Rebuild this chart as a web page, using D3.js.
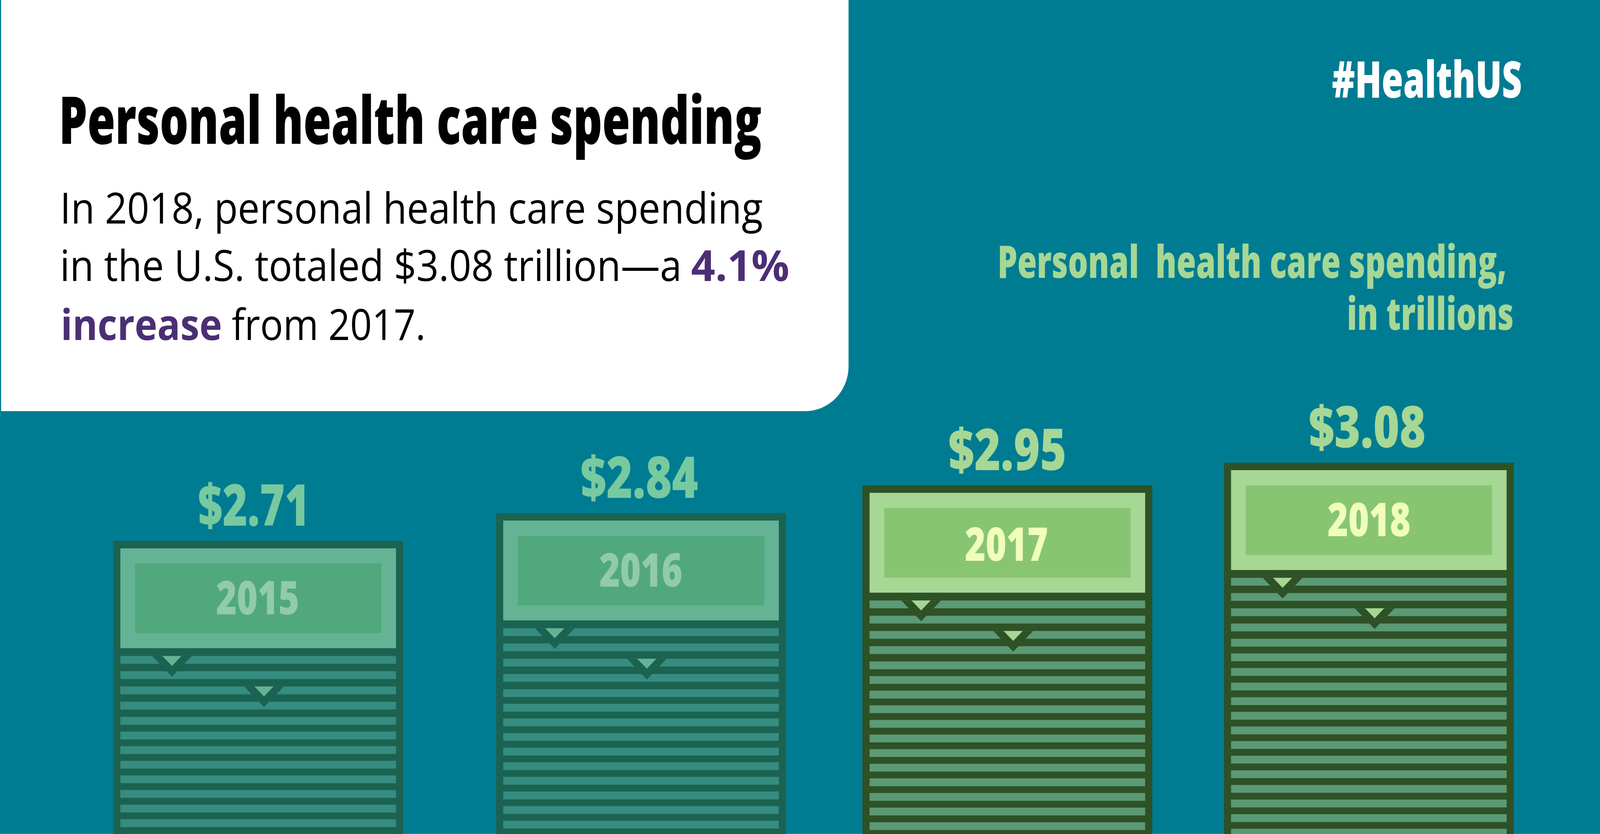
<!DOCTYPE html>
<html>
<head>
<meta charset="utf-8">
<title>Personal health care spending</title>
<script src="https://d3js.org/d3.v7.min.js"></script>
<style>
  html, body { margin: 0; padding: 0; background: #007c92; overflow: hidden; }
  svg { display: block; }
  text { font-family: "Open Sans", sans-serif; white-space: pre; }
</style>
</head>
<body>
<script>
// chart data
var years = [2015, 2016, 2017, 2018];
var spending = [2.71, 2.84, 2.95, 3.08];
var valueLabels = ["$2.71", "$2.84", "$2.95", "$3.08"];

var w = 4267;
var h = 2134;

// the window can come up narrower than asked, so draw in reference units and fit
var svg = d3.select("body").append("svg")
  .attr("width", window.innerWidth)
  .attr("height", window.innerHeight)
  .attr("viewBox", "0 0 " + w + " " + h)
  .attr("preserveAspectRatio", "none");

var colors = {
  bg: "#007c92",
  ink: "#000000",
  purple: "#4b2e74",
  old: { border: "#1b6350", header: "#64b394", inner: "#52a87d", year: "#92cba8", stripe: "#368c80", value: "#77c9a0" },
  now: { border: "#2e5126", header: "#a6d795", inner: "#88c573", year: "#efffbb", stripe: "#5b9a75", value: "#a6d795" }
};

// the source spaces the bars by hand, so both scales go through each bar
var x = d3.scaleOrdinal().domain(years).range([302, 1323, 2300, 3264]);
var y = d3.scaleLinear().domain(spending).range([1384, 1313, 1242, 1184]);
var stripeY = d3.scaleLinear().domain([0, 4, 16]).range([0, 156, 604.8]);

var barW = 773;
var rim = 19;
var headerH = 274.5;
var stripeH = 20;
var stripeCount = 20;
var marks = [{ dx: 156.5, stripe: 0 }, { dx: 402, stripe: 2 }];

svg.append("rect").attr("width", w).attr("height", h).attr("fill", colors.bg);
svg.append("rect").attr("y", h - 1).attr("width", w).attr("height", 1).attr("fill", "#3fa6af");

// white text panel, only the bottom right corner is rounded
var r = 115;
var panel = d3.path();
panel.moveTo(3, 0);
panel.lineTo(2263, 0);
panel.lineTo(2263, 1052 - r);
panel.arcTo(2263, 1052, 2263 - r, 1052, r);
panel.lineTo(3, 1052);
panel.closePath();
svg.append("path").attr("d", panel.toString()).attr("fill", "#ffffff");

// no condensed face installed: squeeze each text to the width it has in the picture
function fit(sel, px, py, len) {
  sel.attr("transform", function() {
    var sx = len / this.getComputedTextLength();
    return "translate(" + px + "," + py + ") scale(" + sx + ",1)";
  });
}

function label(t, px, py, len, size, weight, fill) {
  svg.append("text")
    .attr("font-size", size)
    .attr("font-weight", weight)
    .attr("fill", fill)
    .text(t)
    .call(fit, px, py, len);
}

label("Personal health care spending", 157, 368, 1874, 169, 800, colors.ink);
label("In 2018, personal health care spending", 160, 572, 1874, 110, 400, colors.ink);
label("in the U.S. totaled $3.08 trillion\u2014a", 160, 719, 1658, 110, 400, colors.ink);
label("4.1%", 1843, 719, 262, 110, 700, colors.purple);
label("increase", 162, 870, 430, 110, 700, colors.purple);
label("from 2017.", 618, 870, 517, 110, 400, colors.ink);

label("#HealthUS", 3552, 250, 507, 129, 800, "#ffffff");
label("Personal  health care spending,", 2660, 711, 1358, 115, 800, colors.now.header);
label("in trillions", 3592, 844, 445, 115, 800, colors.now.header);

var rows = years.map(function(year, i) {
  return { year: year, value: spending[i], text: valueLabels[i], c: year >= 2017 ? colors.now : colors.old };
});

var bars = svg.selectAll("g.bar")
  .data(rows)
  .enter()
  .append("g")
  .attr("class", "bar")
  .attr("transform", function(d) { return "translate(" + x(d.year) + "," + y(d.value) + ")"; });

// the dark rim runs off the bottom of the picture
bars.append("rect")
  .attr("width", barW)
  .attr("height", function(d) { return h - y(d.value); })
  .attr("fill", function(d) { return d.c.border; });

bars.append("rect")
  .attr("x", rim)
  .attr("y", rim)
  .attr("width", barW - 2 * rim)
  .attr("height", headerH - rim)
  .attr("fill", function(d) { return d.c.header; });

bars.append("rect")
  .attr("x", 58)
  .attr("y", 58)
  .attr("width", 657)
  .attr("height", 178)
  .attr("fill", function(d) { return d.c.inner; });

bars.selectAll("rect.stripe")
  .data(function(d) {
    return d3.range(stripeCount).map(function(i) {
      return { i: i, c: d.c, room: h - y(d.value) };
    }).filter(function(s) { return headerH + 20 + stripeY(s.i) < s.room; });
  })
  .enter()
  .append("rect")
  .attr("class", "stripe")
  .attr("x", rim)
  .attr("y", function(s) { return headerH + 20 + stripeY(s.i); })
  .attr("width", barW - 2 * rim)
  .attr("height", stripeH)
  .attr("fill", function(s) { return s.c.stripe; });

// two little notch markers, dark triangle with a light one inside
function tri(dx, top, half) {
  var p = d3.path();
  p.moveTo(dx - half, top);
  p.lineTo(dx + half, top);
  p.lineTo(dx, top + half);
  p.closePath();
  return p.toString();
}

var notch = bars.selectAll("g.notch")
  .data(function(d) {
    return marks.map(function(m) { return { dx: m.dx, top: headerH + 20 + stripeY(m.stripe), c: d.c }; });
  })
  .enter()
  .append("g")
  .attr("class", "notch");

notch.append("path")
  .attr("d", function(m) { return tri(m.dx, m.top, 53); })
  .attr("fill", function(m) { return m.c.border; });

notch.append("path")
  .attr("d", function(m) { return tri(m.dx, m.top, 25.5); })
  .attr("fill", function(m) { return m.c.header; });

var yearLeft = { 2015: 274, 2016: 275, 2017: 273, 2018: 276 };
var yearBase = { 2015: 188, 2016: 188, 2017: 193, 2018: 188 };
var valueLeft = { 2015: 226, 2016: 225, 2017: 229, 2018: 226 };
var valueLen = { 2015: 298, 2016: 314, 2017: 315, 2018: 312 };

bars.append("text")
  .attr("font-size", 118)
  .attr("font-weight", 800)
  .attr("fill", function(d) { return d.c.year; })
  .text(function(d) { return d.year; })
  .each(function(d) { d3.select(this).call(fit, yearLeft[d.year], yearBase[d.year], 222); });

bars.append("text")
  .attr("font-size", 147)
  .attr("font-weight", 800)
  .attr("fill", function(d) { return d.c.value; })
  .text(function(d) { return d.text; })
  .each(function(d) { d3.select(this).call(fit, valueLeft[d.year], -39, valueLen[d.year]); });
</script>
</body>
</html>
